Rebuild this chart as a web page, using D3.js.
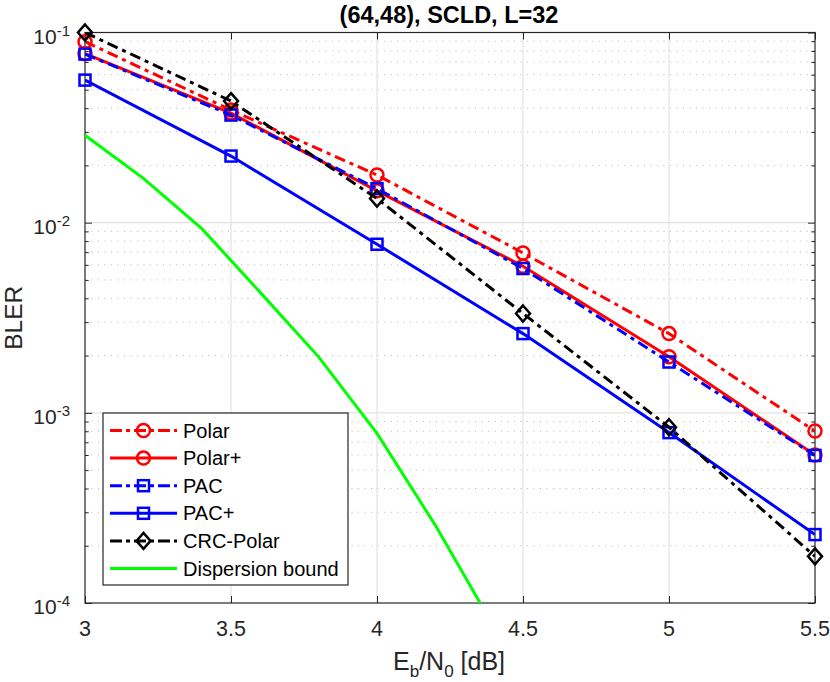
<!DOCTYPE html>
<html><head><meta charset="utf-8">
<script src="https://cdn.jsdelivr.net/npm/d3@7/dist/d3.min.js"></script>
<style>
html,body{margin:0;padding:0;background:#fff;}
text{font-family:"Liberation Sans",Arial,Helvetica,sans-serif;fill:#262626;}
</style></head>
<body><svg id="c" width="830" height="682"></svg>
<script>
// ---- data ----
const ebn0 = [3, 3.5, 4, 4.5, 5, 5.5];
const polar      = [0.0895, 0.0391, 0.0178, 0.00693, 0.00261, 0.000802];
const polarPlus  = [0.0774, 0.0377, 0.0147, 0.0059, 0.00197, 0.000600];
const pac        = [0.0770, 0.0368, 0.0151, 0.00574, 0.00185, 0.000597];
const pacPlus    = [0.0562, 0.0224, 0.0077, 0.00261, 0.000787, 0.000229];
const crcPolar   = [0.1000, 0.0436, 0.0134, 0.00333, 0.00084, 0.000176];
const dispX      = [3.0, 3.2, 3.4, 3.6, 3.8, 4.0, 4.2, 4.4];
const dispersion = [0.0288, 0.0171, 0.0093, 0.0043, 0.00197, 0.00078, 0.000256, 0.000075];
const xTicks = [3, 3.5, 4, 4.5, 5, 5.5];
const xTickLabels = ["3", "3.5", "4", "4.5", "5", "5.5"];
const yDecades = [-4, -3, -2, -1];
const seriesNames = ["Polar", "Polar+", "PAC", "PAC+", "CRC-Polar", "Dispersion bound"];

const series = [
  {name: seriesNames[0], x: ebn0, y: polar, color: "#ff0000", dash: "11,5,4,5", marker: "circle"},
  {name: seriesNames[1], x: ebn0, y: polarPlus, color: "#ff0000", dash: null, marker: "circle"},
  {name: seriesNames[2], x: ebn0, y: pac, color: "#0000ff", dash: "11,5,4,5", marker: "square"},
  {name: seriesNames[3], x: ebn0, y: pacPlus, color: "#0000ff", dash: null, marker: "square"},
  {name: seriesNames[4], x: ebn0, y: crcPolar, color: "#000000", dash: "11,5,4,5", marker: "diamond"},
  {name: seriesNames[5], x: dispX, y: dispersion, color: "#00ff00", dash: null, marker: null}
];

const L = 85, R = 815, T = 32.5, B = 603;
const svg = d3.select("#c");
const x = d3.scaleLinear().domain([3, 5.5]).range([L, R]);
const y = d3.scaleLog().domain([1e-4, 1e-1]).range([B, T]);

// grid
const g = svg.append("g");
const minorVals = [];
for (let d = -4; d < -1; d++) for (let k = 2; k <= 9; k++) minorVals.push(k * Math.pow(10, d));
g.selectAll(".ymin").data(minorVals).enter().append("line")
  .attr("x1", L).attr("x2", R).attr("y1", d => y(d)).attr("y2", d => y(d))
  .attr("stroke", "#b8b8b8").attr("stroke-width", 1).attr("stroke-dasharray", "1,5.5");
g.selectAll(".xg").data(xTicks.slice(1, -1)).enter().append("line")
  .attr("x1", d => x(d)).attr("x2", d => x(d)).attr("y1", T).attr("y2", B)
  .attr("stroke", "#e3e3e3").attr("stroke-width", 1.2);
g.selectAll(".yg").data(yDecades.slice(1, -1)).enter().append("line")
  .attr("x1", L).attr("x2", R).attr("y1", d => y(Math.pow(10, d))).attr("y2", d => y(Math.pow(10, d)))
  .attr("stroke", "#e3e3e3").attr("stroke-width", 1.2);

// axes box with inward ticks
const ax = svg.append("g");
const axisColor = "#262626";
ax.append("g").attr("transform", `translate(0,${B})`)
  .call(d3.axisBottom(x).tickValues(xTicks).tickSize(-7).tickFormat(""));
ax.append("g").attr("transform", `translate(0,${T})`)
  .call(d3.axisTop(x).tickValues(xTicks).tickSize(-7).tickFormat(""));
const majY = yDecades.map(d => Math.pow(10, d));
ax.append("g").attr("transform", `translate(${L},0)`)
  .call(d3.axisLeft(y).tickValues(majY).tickSize(-7).tickFormat(""));
ax.append("g").attr("transform", `translate(${R},0)`)
  .call(d3.axisRight(y).tickValues(majY).tickSize(-7).tickFormat(""));
ax.append("g").attr("transform", `translate(${L},0)`)
  .call(d3.axisLeft(y).tickValues(minorVals).tickSize(-3.7).tickFormat(""));
ax.append("g").attr("transform", `translate(${R},0)`)
  .call(d3.axisRight(y).tickValues(minorVals).tickSize(-3.7).tickFormat(""));
ax.selectAll("path.domain").remove();
ax.selectAll("line").attr("stroke", axisColor).attr("stroke-width", 1);
ax.append("rect").attr("x", L).attr("y", T).attr("width", R - L).attr("height", B - T)
  .attr("fill", "none").attr("stroke", axisColor).attr("stroke-width", 1.2);

// tick labels
svg.selectAll(".xtl").data(xTicks).enter().append("text")
  .attr("x", d => x(d)).attr("y", 636).attr("text-anchor", "middle")
  .attr("font-size", 21.5).text((d, i) => xTickLabels[i]);
const yl = svg.selectAll(".ytl").data(yDecades).enter().append("text")
  .attr("x", 70).attr("y", d => y(Math.pow(10, d)) + 11).attr("text-anchor", "end").attr("font-size", 21);
yl.append("tspan").text("10");
yl.append("tspan").attr("dy", -8).attr("font-size", 15).text(d => "-" + Math.abs(d));

// title & labels
svg.append("text").attr("x", 449).attr("y", 22.5).attr("text-anchor", "middle")
  .attr("font-size", 23.5).attr("font-weight", "bold").style("fill", "#000").text("(64,48), SCLD, L=32");
const xl = svg.append("text").attr("x", 449).attr("y", 670).attr("text-anchor", "middle").attr("font-size", 25);
xl.append("tspan").text("E");
xl.append("tspan").attr("dy", 7).attr("font-size", 17).text("b");
xl.append("tspan").attr("dy", -7).text("/N");
xl.append("tspan").attr("dy", 7).attr("font-size", 17).text("0");
xl.append("tspan").attr("dy", -7).text(" [dB]");
svg.append("text").attr("transform", `translate(22,${(T + B) / 2}) rotate(-90)`)
  .attr("text-anchor", "middle").attr("font-size", 24.5).text("BLER");

// series
svg.append("defs").append("clipPath").attr("id", "clip").append("rect")
  .attr("x", L).attr("y", T).attr("width", R - L).attr("height", B - T);
const line = d3.line().x(d => x(d[0])).y(d => y(d[1]));

function drawMarker(sel, type, color) {
  if (type === "circle") {
    sel.append("circle").attr("r", 6.5).attr("fill", "none").attr("stroke", color).attr("stroke-width", 2.5);
  } else if (type === "square") {
    sel.append("rect").attr("x", -5.5).attr("y", -5.5).attr("width", 11).attr("height", 11)
      .attr("fill", "none").attr("stroke", color).attr("stroke-width", 2.5);
  } else if (type === "diamond") {
    sel.append("path").attr("d", "M0,-8L7,0L0,8L-7,0Z").attr("fill", "none").attr("stroke", color).attr("stroke-width", 2.5);
  }
}

const sg = svg.append("g");
series.forEach(s => {
  const pts = s.x.map((v, i) => [v, s.y[i]]);
  sg.append("path").datum(pts).attr("d", line).attr("fill", "none")
    .attr("stroke", s.color).attr("stroke-width", 3)
    .attr("stroke-dasharray", s.dash).attr("clip-path", "url(#clip)");
  if (s.marker) {
    pts.forEach(p => {
      const m = sg.append("g").attr("transform", `translate(${x(p[0])},${y(p[1])})`);
      drawMarker(m, s.marker, s.color);
    });
  }
});

// legend
const lg = svg.append("g");
lg.append("rect").attr("x", 103).attr("y", 413).attr("width", 245).attr("height", 172)
  .attr("fill", "#fff").attr("stroke", axisColor).attr("stroke-width", 1.2);
series.forEach((s, i) => {
  const cy = 430.5 + i * 27.6;
  lg.append("line").attr("x1", 110).attr("x2", 177).attr("y1", cy).attr("y2", cy)
    .attr("stroke", s.color).attr("stroke-width", 3).attr("stroke-dasharray", s.dash ? "12,4,4,4" : null);
  if (s.marker) {
    const m = lg.append("g").attr("transform", `translate(143.5,${cy})`);
    drawMarker(m, s.marker, s.color);
  }
  lg.append("text").attr("x", 183).attr("y", cy + 7).attr("font-size", 20).style("fill", "#000").text(s.name);
});
</script></body></html>
